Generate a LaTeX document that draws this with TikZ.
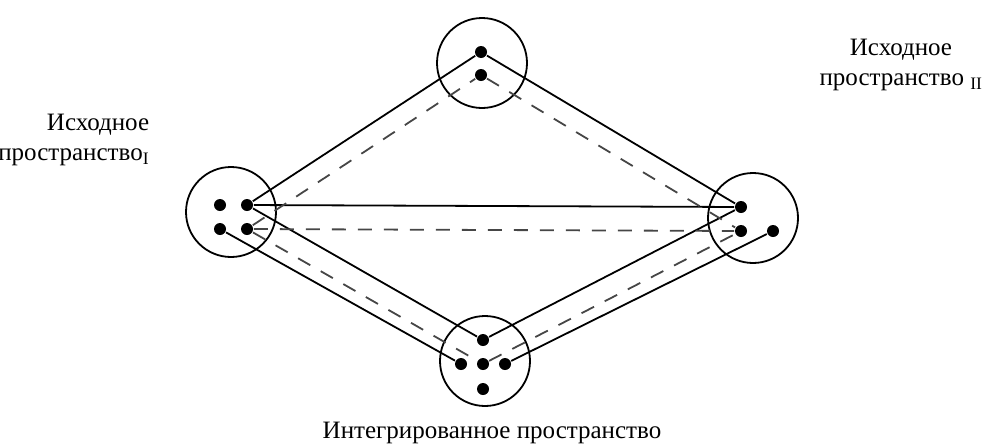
\documentclass[tikz,border=0pt]{standalone}
\usepackage{fontspec}
\setmainfont{Liberation Serif}

\begin{document}
\begin{tikzpicture}[x=1pt, y=-1pt, line width=1.8pt,
    space/.style={draw, circle, minimum size=90pt, inner sep=0pt},
    elem/.style={fill, circle, minimum size=12pt, inner sep=0pt},
    link/.style={line width=1.8pt},
    dlink/.style={line width=1.8pt, darkgray, dash pattern=on 14pt off 12pt},
    lbl/.style={font=\fontsize{25}{30}\selectfont, inner sep=0pt}]
    % Define colors
    \definecolor{darkgray}{RGB}{70,70,70}

    \useasboundingbox (0,0) rectangle (984,445);

    % Draw the four spaces
    \node[space] (ct) at (482,63) {};
    \node[space] (cl) at (231,212) {};
    \node[space] (cr) at (753,218) {};
    \node[space] (cb) at (485,361) {};

    % Elements of the spaces
    \node[elem] (t1) at (481,52) {};
    \node[elem] (t2) at (481,75) {};
    \node[elem] (l1) at (220,205) {};
    \node[elem] (l2) at (247,205) {};
    \node[elem] (l3) at (220,229) {};
    \node[elem] (l4) at (247,229) {};
    \node[elem] (r1) at (741,207) {};
    \node[elem] (r2) at (741,231) {};
    \node[elem] (r3) at (773,231) {};
    \node[elem] (b1) at (483,340) {};
    \node[elem] (b2) at (461,364) {};
    \node[elem] (b3) at (483,364) {};
    \node[elem] (b4) at (505,364) {};
    \node[elem] (b5) at (483,389) {};

    % Solid links
    \draw[link] (l2) -- (t1) -- (r1);
    \draw[link] (l2) -- (r1);
    \draw[link] (l2) -- (b1) -- (r1);
    \draw[link] (l3) -- (b2);
    \draw[link] (b4) -- (r3);

    % Dashed links
    \draw[dlink] (l4) -- (t2) -- (r2);
    \draw[dlink] (l4) -- (r2);
    \draw[dlink] (l4) -- (b3) -- (r2);

    % Add space labels
    \node[lbl, align=right, anchor=east] (labI) at (150,140)
        {Исходное\\пространство\textsubscript{I}};
    \node[lbl, align=center] (labII) at (901,65)
        {Исходное\\пространство \textsubscript{II}};
    \node[lbl] (labint) at (492,433) {Интегрированное пространство};

\end{tikzpicture}
\end{document}
